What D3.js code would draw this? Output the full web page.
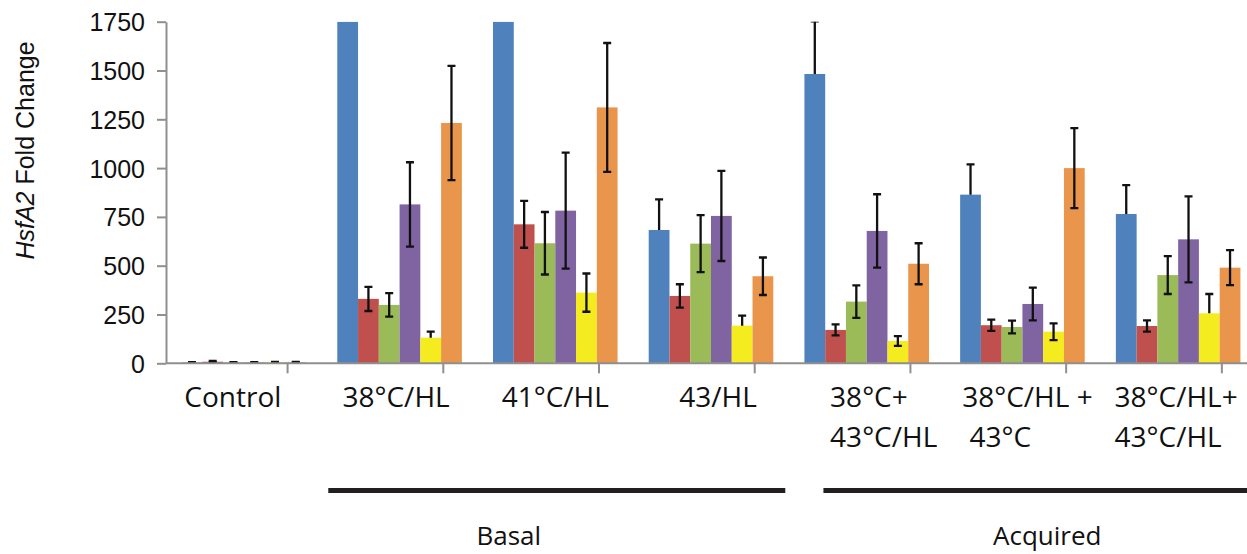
<!DOCTYPE html>
<html><head><meta charset="utf-8">
<script src="https://cdn.jsdelivr.net/npm/d3@7"></script>
<style>body{margin:0;background:#fff;overflow:hidden}</style>
</head><body>
<svg id="chart" width="1247" height="554"></svg>
<script>
// ---- data ----
const categories = ["Control", "38°C/HL", "41°C/HL", "43/HL", "38°C+\n43°C/HL", "38°C/HL +\n 43°C", "38°C/HL+\n43°C/HL"];
const seriesNames = ["Series 1", "Series 2", "Series 3", "Series 4", "Series 5", "Series 6"];
// values (blue bars in 38°C/HL and 41°C/HL run off the top of the axis; shown at axis max)
const series1 = [4, 1750, 1750, 683, 1482, 864, 765];
const series2 = [8, 330, 712, 345, 171, 195, 191];
const series3 = [4, 299, 615, 613, 316, 186, 452];
const series4 = [4, 814, 782, 755, 678, 304, 635];
const series5 = [5, 131, 362, 193, 114, 162, 256];
const series6 = [5, 1231, 1311, 446, 510, 1000, 490];
// error bars (upper / lower extents)
const err1Up = [2, 0, 0, 157, 270, 155, 148];
const err1Down = [0, 0, 0, 0, 0, 0, 0];
const err2Up = [4, 62, 120, 60, 28, 29, 29];
const err2Down = [4, 62, 120, 60, 28, 29, 29];
const err3Up = [2, 60, 160, 146, 83, 33, 97];
const err3Down = [2, 60, 160, 146, 83, 33, 97];
const err4Up = [2, 216, 297, 231, 188, 84, 220];
const err4Down = [2, 216, 297, 231, 188, 84, 220];
const err5Up = [2, 31, 98, 51, 25, 43, 99];
const err5Down = [0, 0, 98, 0, 25, 43, 0];
const err6Up = [2, 293, 330, 96, 105, 205, 90];
const err6Down = [2, 293, 330, 96, 105, 205, 90];
const yTicks = [0, 250, 500, 750, 1000, 1250, 1500, 1750];
const groupBrackets = [
  {label: "Basal", from: "38°C/HL", to: "43/HL"},
  {label: "Acquired", from: "38°C+\n43°C/HL", to: "38°C/HL+\n43°C/HL"}
];

// ---- style ----
const colors = ["#4F81BD", "#C0504D", "#9BBB59", "#8064A2", "#F5EC1F", "#E9964C"];
const W = 1247, H = 554;
const axisColor = "#8f8f8f";

const allValues = [series1, series2, series3, series4, series5, series6];
const allUp = [err1Up, err2Up, err3Up, err4Up, err5Up, err6Up];
const allDown = [err1Down, err2Down, err3Down, err4Down, err5Down, err6Down];

const svg = d3.select("#chart");
const pLeft = 166, pRight = 1256, pTop = 21.7, pBottom = 363.3;

const x0 = d3.scaleBand().domain(categories).range([pLeft, pRight]).paddingInner(0.2).paddingOuter(0.1);
const x1 = d3.scaleBand().domain(seriesNames).range([0, x0.bandwidth()]).padding(0);
const y = d3.scaleLinear().domain([0, 1750]).range([pBottom, pTop]);

svg.append("defs").append("clipPath").attr("id", "plotClip")
  .append("rect").attr("x", pLeft).attr("y", pTop).attr("width", W - pLeft).attr("height", pBottom - pTop + 1);

const plot = svg.append("g").attr("clip-path", "url(#plotClip)");

const rows = [];
categories.forEach((c, ci) => {
  seriesNames.forEach((s, si) => {
    rows.push({cat: c, ser: s, si, v: allValues[si][ci], up: allUp[si][ci], down: allDown[si][ci]});
  });
});

plot.selectAll("rect.bar").data(rows).join("rect").attr("class", "bar")
  .attr("x", d => x0(d.cat) + x1(d.ser))
  .attr("width", x1.bandwidth())
  .attr("y", d => y(d.v))
  .attr("height", d => y(0) - y(d.v))
  .attr("fill", d => colors[d.si]);

const eb = plot.selectAll("g.err").data(rows.filter(d => d.up > 0 || d.down > 0)).join("g").attr("class", "err")
  .attr("stroke", "#111").attr("stroke-width", 2.3).attr("fill", "none");
const cx = d => x0(d.cat) + x1(d.ser) + x1.bandwidth() / 2;
const capW = 4;
eb.append("line").attr("x1", cx).attr("x2", cx)
  .attr("y1", d => y(d.v + d.up)).attr("y2", d => y(d.v - d.down));
eb.filter(d => d.up > 0).append("line")
  .attr("x1", d => cx(d) - capW).attr("x2", d => cx(d) + capW)
  .attr("y1", d => y(d.v + d.up)).attr("y2", d => y(d.v + d.up));
eb.filter(d => d.down > 0).append("line")
  .attr("x1", d => cx(d) - capW).attr("x2", d => cx(d) + capW)
  .attr("y1", d => y(d.v - d.down)).attr("y2", d => y(d.v - d.down));

// y axis
const yAxis = d3.axisLeft(y).tickValues(yTicks).tickFormat(d3.format("d"))
  .tickSize(9).tickPadding(12).tickSizeOuter(0);
const yg = svg.append("g").attr("transform", `translate(${pLeft},0)`).call(yAxis);
yg.select(".domain").attr("stroke", axisColor).attr("stroke-width", 2);
yg.selectAll(".tick line").attr("stroke", axisColor).attr("stroke-width", 2);
yg.selectAll(".tick text").attr("font-family", "'Liberation Sans', Arial, sans-serif")
  .attr("font-size", 25).attr("fill", "#111").attr("dy", "0.36em");

// x axis line + tick marks
svg.append("line").attr("x1", pLeft).attr("x2", W).attr("y1", pBottom).attr("y2", pBottom)
  .attr("stroke", axisColor).attr("stroke-width", 2);
svg.selectAll("line.xtick").data(categories).join("line").attr("class", "xtick")
  .attr("x1", c => x0(c) + x0.bandwidth() * 0.851).attr("x2", c => x0(c) + x0.bandwidth() * 0.851)
  .attr("y1", pBottom).attr("y2", pBottom + 10)
  .attr("stroke", axisColor).attr("stroke-width", 2);

// y axis title
const yt = svg.append("text")
  .attr("transform", `translate(34,${(pTop + pBottom) / 2 - 42}) rotate(-90)`)
  .attr("text-anchor", "middle")
  .attr("font-family", "'Liberation Sans', Arial, sans-serif")
  .attr("font-size", 25).attr("fill", "#111");
yt.append("tspan").attr("font-style", "italic").text("HsfA2");
yt.append("tspan").text(" Fold Change");

// category labels
const labelNudge = [-11, -3.5, 0, 7, 17, 5, -2];
const labFont = "'Open Sans', 'Noto Sans', sans-serif";
categories.forEach((c, i) => {
  const lines = c.split("\n");
  const center = x0(c) + x0.bandwidth() / 2 + labelNudge[i];
  const t = svg.append("text").attr("font-family", labFont).attr("font-size", 28).attr("fill", "#111")
    .style("white-space", "pre");
  const spans = lines.map((ln, li) => t.append("tspan").attr("y", 406.7 + li * 40).text(ln));
  if (lines.length === 1) {
    t.attr("text-anchor", "middle");
    spans[0].attr("x", center);
  } else {
    const widths = spans.map(s => s.node().getComputedTextLength());
    const mw = d3.max(widths);
    spans.forEach(s => s.attr("x", center - mw / 2));
  }
});

// bracket lines & group labels
const bracketExt = [[-9, 12], [19, null]];
const bracketLabelNudge = [-48, 12];
groupBrackets.forEach((g, i) => {
  const xa = x0(g.from) + bracketExt[i][0];
  const xb = bracketExt[i][1] === null ? W : x0(g.to) + x0.bandwidth() + bracketExt[i][1];
  svg.append("line").attr("x1", xa).attr("x2", xb).attr("y1", 490.5).attr("y2", 490.5)
    .attr("stroke", "#231f20").attr("stroke-width", 5);
  svg.append("text").attr("x", (xa + xb) / 2 + bracketLabelNudge[i]).attr("y", 545)
    .attr("text-anchor", "middle").attr("font-family", labFont).attr("font-size", 26)
    .attr("fill", "#111").text(g.label);
});
</script>
</body></html>
